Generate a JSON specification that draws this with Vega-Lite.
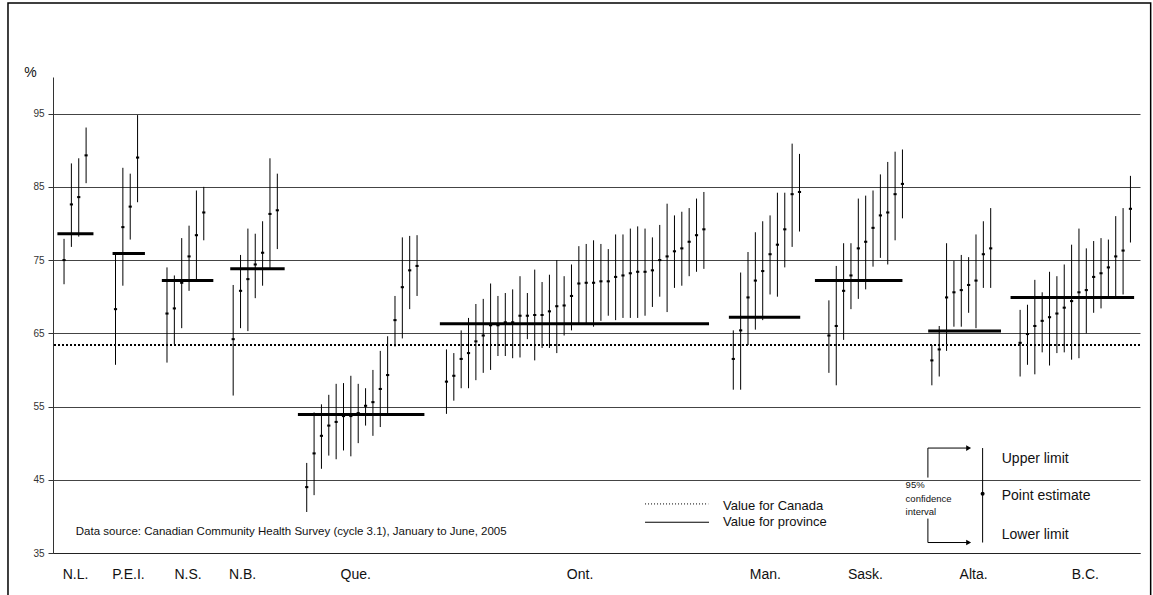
{
  "$schema": "https://vega.github.io/schema/vega-lite/v6.json",
  "width": 1087,
  "height": 476,
  "autosize": "none",
  "padding": {"left": 53, "top": 77, "right": 13, "bottom": 42},
  "background": "white",
  "config": {"view": {"stroke": null}, "font": "Liberation Sans"},
  "datasets": {
    "regions": [
      {"province": "N.L.", "n": 1, "estimate": 75.0, "lower": 71.7, "upper": 77.9},
      {"province": "N.L.", "n": 2, "estimate": 82.6, "lower": 76.8, "upper": 88.2},
      {"province": "N.L.", "n": 3, "estimate": 83.6, "lower": 78.2, "upper": 88.9},
      {"province": "N.L.", "n": 4, "estimate": 89.3, "lower": 85.5, "upper": 93.1},
      {"province": "P.E.I.", "n": 8, "estimate": 68.3, "lower": 60.7, "upper": 76.0},
      {"province": "P.E.I.", "n": 9, "estimate": 79.5, "lower": 71.5, "upper": 87.6},
      {"province": "P.E.I.", "n": 10, "estimate": 82.3, "lower": 77.8, "upper": 86.8},
      {"province": "P.E.I.", "n": 11, "estimate": 89.0, "lower": 82.9, "upper": 94.8},
      {"province": "N.S.", "n": 15, "estimate": 67.7, "lower": 61.0, "upper": 74.0},
      {"province": "N.S.", "n": 16, "estimate": 68.4, "lower": 63.5, "upper": 72.9},
      {"province": "N.S.", "n": 17, "estimate": 71.9, "lower": 65.7, "upper": 78.0},
      {"province": "N.S.", "n": 18, "estimate": 75.5, "lower": 70.8, "upper": 79.7},
      {"province": "N.S.", "n": 19, "estimate": 78.4, "lower": 72.3, "upper": 84.5},
      {"province": "N.S.", "n": 20, "estimate": 81.5, "lower": 77.7, "upper": 85.0},
      {"province": "N.B.", "n": 24, "estimate": 64.2, "lower": 56.5, "upper": 71.6},
      {"province": "N.B.", "n": 25, "estimate": 70.8, "lower": 65.7, "upper": 75.7},
      {"province": "N.B.", "n": 26, "estimate": 72.4, "lower": 65.3, "upper": 79.3},
      {"province": "N.B.", "n": 27, "estimate": 74.4, "lower": 69.8, "upper": 78.6},
      {"province": "N.B.", "n": 28, "estimate": 76.0, "lower": 71.5, "upper": 80.3},
      {"province": "N.B.", "n": 29, "estimate": 81.3, "lower": 73.8, "upper": 88.9},
      {"province": "N.B.", "n": 30, "estimate": 81.8, "lower": 76.5, "upper": 86.8},
      {"province": "Que.", "n": 34, "estimate": 44.0, "lower": 40.6, "upper": 47.3},
      {"province": "Que.", "n": 35, "estimate": 48.6, "lower": 42.9, "upper": 54.2},
      {"province": "Que.", "n": 36, "estimate": 51.0, "lower": 46.5, "upper": 55.3},
      {"province": "Que.", "n": 37, "estimate": 52.4, "lower": 48.3, "upper": 56.6},
      {"province": "Que.", "n": 38, "estimate": 52.9, "lower": 47.8, "upper": 58.1},
      {"province": "Que.", "n": 39, "estimate": 53.7, "lower": 49.0, "upper": 58.2},
      {"province": "Que.", "n": 40, "estimate": 53.7, "lower": 48.2, "upper": 59.2},
      {"province": "Que.", "n": 41, "estimate": 54.1, "lower": 50.0, "upper": 58.1},
      {"province": "Que.", "n": 42, "estimate": 55.1, "lower": 52.4, "upper": 57.5},
      {"province": "Que.", "n": 43, "estimate": 55.6, "lower": 51.0, "upper": 60.0},
      {"province": "Que.", "n": 44, "estimate": 57.4, "lower": 52.2, "upper": 62.6},
      {"province": "Que.", "n": 45, "estimate": 59.3, "lower": 54.0, "upper": 64.6},
      {"province": "Que.", "n": 46, "estimate": 66.8, "lower": 63.2, "upper": 70.1},
      {"province": "Que.", "n": 47, "estimate": 71.3, "lower": 64.3, "upper": 78.1},
      {"province": "Que.", "n": 48, "estimate": 73.6, "lower": 68.3, "upper": 78.3},
      {"province": "Que.", "n": 49, "estimate": 74.2, "lower": 70.1, "upper": 78.4},
      {"province": "Ont.", "n": 53, "estimate": 58.4, "lower": 54.0, "upper": 62.8},
      {"province": "Ont.", "n": 54, "estimate": 59.2, "lower": 55.8, "upper": 62.3},
      {"province": "Ont.", "n": 55, "estimate": 61.5, "lower": 57.5, "upper": 65.4},
      {"province": "Ont.", "n": 56, "estimate": 62.3, "lower": 57.5, "upper": 67.1},
      {"province": "Ont.", "n": 57, "estimate": 63.9, "lower": 58.6, "upper": 69.0},
      {"province": "Ont.", "n": 58, "estimate": 64.7, "lower": 59.6, "upper": 69.7},
      {"province": "Ont.", "n": 59, "estimate": 66.1, "lower": 60.0, "upper": 71.8},
      {"province": "Ont.", "n": 60, "estimate": 66.1, "lower": 61.9, "upper": 70.1},
      {"province": "Ont.", "n": 61, "estimate": 66.5, "lower": 61.9, "upper": 70.5},
      {"province": "Ont.", "n": 62, "estimate": 66.5, "lower": 61.6, "upper": 71.0},
      {"province": "Ont.", "n": 63, "estimate": 67.4, "lower": 61.7, "upper": 72.8},
      {"province": "Ont.", "n": 64, "estimate": 67.4, "lower": 64.2, "upper": 70.5},
      {"province": "Ont.", "n": 65, "estimate": 67.5, "lower": 61.3, "upper": 73.7},
      {"province": "Ont.", "n": 66, "estimate": 67.5, "lower": 63.0, "upper": 72.0},
      {"province": "Ont.", "n": 67, "estimate": 68.0, "lower": 63.0, "upper": 73.0},
      {"province": "Ont.", "n": 68, "estimate": 68.7, "lower": 62.3, "upper": 75.0},
      {"province": "Ont.", "n": 69, "estimate": 68.8, "lower": 64.7, "upper": 72.8},
      {"province": "Ont.", "n": 70, "estimate": 70.1, "lower": 65.4, "upper": 74.4},
      {"province": "Ont.", "n": 71, "estimate": 71.8, "lower": 66.4, "upper": 76.9},
      {"province": "Ont.", "n": 72, "estimate": 71.9, "lower": 66.4, "upper": 77.2},
      {"province": "Ont.", "n": 73, "estimate": 71.9, "lower": 65.9, "upper": 77.7},
      {"province": "Ont.", "n": 74, "estimate": 72.1, "lower": 66.7, "upper": 77.2},
      {"province": "Ont.", "n": 75, "estimate": 72.1, "lower": 67.4, "upper": 76.5},
      {"province": "Ont.", "n": 76, "estimate": 72.7, "lower": 66.8, "upper": 78.5},
      {"province": "Ont.", "n": 77, "estimate": 72.9, "lower": 67.1, "upper": 78.5},
      {"province": "Ont.", "n": 78, "estimate": 73.2, "lower": 67.1, "upper": 79.3},
      {"province": "Ont.", "n": 79, "estimate": 73.4, "lower": 67.1, "upper": 79.6},
      {"province": "Ont.", "n": 80, "estimate": 73.4, "lower": 67.4, "upper": 79.3},
      {"province": "Ont.", "n": 81, "estimate": 73.6, "lower": 68.6, "upper": 78.1},
      {"province": "Ont.", "n": 82, "estimate": 75.0, "lower": 70.0, "upper": 79.8},
      {"province": "Ont.", "n": 83, "estimate": 75.5, "lower": 67.9, "upper": 82.7},
      {"province": "Ont.", "n": 84, "estimate": 76.2, "lower": 71.2, "upper": 81.1},
      {"province": "Ont.", "n": 85, "estimate": 76.6, "lower": 71.5, "upper": 81.6},
      {"province": "Ont.", "n": 86, "estimate": 77.5, "lower": 72.8, "upper": 82.1},
      {"province": "Ont.", "n": 87, "estimate": 78.4, "lower": 73.4, "upper": 83.4},
      {"province": "Ont.", "n": 88, "estimate": 79.2, "lower": 73.8, "upper": 84.3},
      {"province": "Man.", "n": 92, "estimate": 61.5, "lower": 57.3, "upper": 65.4},
      {"province": "Man.", "n": 93, "estimate": 65.4, "lower": 57.3, "upper": 73.3},
      {"province": "Man.", "n": 94, "estimate": 69.9, "lower": 63.4, "upper": 76.1},
      {"province": "Man.", "n": 95, "estimate": 72.2, "lower": 65.5, "upper": 78.8},
      {"province": "Man.", "n": 96, "estimate": 73.5, "lower": 66.8, "upper": 80.3},
      {"province": "Man.", "n": 97, "estimate": 75.8, "lower": 70.3, "upper": 81.1},
      {"province": "Man.", "n": 98, "estimate": 77.1, "lower": 70.0, "upper": 84.2},
      {"province": "Man.", "n": 99, "estimate": 79.2, "lower": 74.0, "upper": 84.2},
      {"province": "Man.", "n": 100, "estimate": 84.0, "lower": 76.8, "upper": 90.9},
      {"province": "Man.", "n": 101, "estimate": 84.3, "lower": 78.9, "upper": 89.5},
      {"province": "Sask.", "n": 105, "estimate": 64.7, "lower": 59.6, "upper": 69.5},
      {"province": "Sask.", "n": 106, "estimate": 66.0, "lower": 57.9, "upper": 74.2},
      {"province": "Sask.", "n": 107, "estimate": 70.8, "lower": 64.1, "upper": 77.3},
      {"province": "Sask.", "n": 108, "estimate": 72.9, "lower": 68.3, "upper": 77.3},
      {"province": "Sask.", "n": 109, "estimate": 76.6, "lower": 69.7, "upper": 83.4},
      {"province": "Sask.", "n": 110, "estimate": 77.5, "lower": 71.0, "upper": 83.8},
      {"province": "Sask.", "n": 111, "estimate": 79.4, "lower": 74.1, "upper": 84.5},
      {"province": "Sask.", "n": 112, "estimate": 81.1, "lower": 75.3, "upper": 86.7},
      {"province": "Sask.", "n": 113, "estimate": 81.5, "lower": 74.4, "upper": 88.4},
      {"province": "Sask.", "n": 114, "estimate": 84.0, "lower": 77.7, "upper": 89.8},
      {"province": "Sask.", "n": 115, "estimate": 85.4, "lower": 80.7, "upper": 90.1},
      {"province": "Alta.", "n": 119, "estimate": 61.3, "lower": 57.9, "upper": 63.4},
      {"province": "Alta.", "n": 120, "estimate": 62.8, "lower": 59.1, "upper": 66.0},
      {"province": "Alta.", "n": 121, "estimate": 69.9, "lower": 62.6, "upper": 77.3},
      {"province": "Alta.", "n": 122, "estimate": 70.6, "lower": 65.9, "upper": 74.9},
      {"province": "Alta.", "n": 123, "estimate": 70.9, "lower": 65.9, "upper": 75.7},
      {"province": "Alta.", "n": 124, "estimate": 71.6, "lower": 67.8, "upper": 75.4},
      {"province": "Alta.", "n": 125, "estimate": 72.2, "lower": 65.7, "upper": 78.5},
      {"province": "Alta.", "n": 126, "estimate": 75.8, "lower": 71.2, "upper": 80.3},
      {"province": "Alta.", "n": 127, "estimate": 76.6, "lower": 71.2, "upper": 82.1},
      {"province": "B.C.", "n": 131, "estimate": 63.7, "lower": 59.1, "upper": 68.2},
      {"province": "B.C.", "n": 132, "estimate": 64.9, "lower": 60.7, "upper": 68.9},
      {"province": "B.C.", "n": 133, "estimate": 66.0, "lower": 59.4, "upper": 72.3},
      {"province": "B.C.", "n": 134, "estimate": 66.7, "lower": 62.4, "upper": 70.6},
      {"province": "B.C.", "n": 135, "estimate": 67.2, "lower": 60.6, "upper": 73.4},
      {"province": "B.C.", "n": 136, "estimate": 67.7, "lower": 62.3, "upper": 72.8},
      {"province": "B.C.", "n": 137, "estimate": 68.5, "lower": 62.4, "upper": 74.4},
      {"province": "B.C.", "n": 138, "estimate": 69.4, "lower": 61.4, "upper": 77.1},
      {"province": "B.C.", "n": 139, "estimate": 70.6, "lower": 61.6, "upper": 79.3},
      {"province": "B.C.", "n": 140, "estimate": 70.9, "lower": 65.0, "upper": 76.6},
      {"province": "B.C.", "n": 141, "estimate": 72.7, "lower": 67.8, "upper": 77.6},
      {"province": "B.C.", "n": 142, "estimate": 73.2, "lower": 68.4, "upper": 78.0},
      {"province": "B.C.", "n": 143, "estimate": 74.0, "lower": 70.0, "upper": 77.8},
      {"province": "B.C.", "n": 144, "estimate": 75.5, "lower": 70.0, "upper": 81.0},
      {"province": "B.C.", "n": 145, "estimate": 76.3, "lower": 70.3, "upper": 82.1},
      {"province": "B.C.", "n": 146, "estimate": 82.0, "lower": 77.4, "upper": 86.5}
    ],
    "provinces": [
      {"province": "N.L.", "value": 78.6, "from": 0.1, "to": 5.0},
      {"province": "P.E.I.", "value": 75.9, "from": 7.6, "to": 12.0},
      {"province": "N.S.", "value": 72.2, "from": 14.3, "to": 21.3},
      {"province": "N.B.", "value": 73.8, "from": 23.6, "to": 31.0},
      {"province": "Que.", "value": 53.9, "from": 32.8, "to": 50.0},
      {"province": "Ont.", "value": 66.3, "from": 52.1, "to": 88.7},
      {"province": "Man.", "value": 67.2, "from": 91.4, "to": 101.1},
      {"province": "Sask.", "value": 72.2, "from": 103.1, "to": 115.0},
      {"province": "Alta.", "value": 65.3, "from": 118.5, "to": 128.4},
      {"province": "B.C.", "value": 69.9, "from": 129.7, "to": 146.5}
    ]
  },
  "layer": [
    {
      "data": {"name": "regions"},
      "mark": {"type": "rule", "color": "black", "strokeWidth": 1},
      "encoding": {
        "x": {
          "field": "n", "type": "quantitative",
          "scale": {"domain": [-0.5, 147.3], "nice": false, "zero": false},
          "axis": {
            "title": null,
            "values": [2.5, 9.7, 17.8, 25.2, 40.6, 71.1, 96.3, 109.9, 124.6, 139.8],
            "labelExpr": "datum.value < 6 ? 'N.L.' : datum.value < 13 ? 'P.E.I.' : datum.value < 22 ? 'N.S.' : datum.value < 32 ? 'N.B.' : datum.value < 51 ? 'Que.' : datum.value < 90 ? 'Ont.' : datum.value < 103 ? 'Man.' : datum.value < 117 ? 'Sask.' : datum.value < 129 ? 'Alta.' : 'B.C.'",
            "ticks": false,
            "grid": false,
            "domainColor": "#222",
            "domainWidth": 1,
            "labelFontSize": 14,
            "labelColor": "#111",
            "labelPadding": 14,
            "labelOverlap": false,
            "labelFlush": false,
            "labelBound": false
          }
        },
        "y": {
          "field": "lower", "type": "quantitative",
          "scale": {"domain": [35, 100], "nice": false, "zero": false},
          "axis": {
            "values": [35, 45, 55, 65, 75, 85, 95],
            "grid": true,
            "gridColor": "#444",
            "gridWidth": 1,
            "domainColor": "#333",
            "tickColor": "#333",
            "tickSize": 5,
            "labelFontSize": 10,
            "labelColor": "#333",
            "labelPadding": 4,
            "title": "%",
            "titleAngle": 0,
            "titleX": -23,
            "titleY": -5,
            "titleAlign": "center",
            "titleBaseline": "middle",
            "titleFontSize": 14,
            "titleFontWeight": "normal",
            "titleColor": "#111"
          }
        },
        "y2": {"field": "upper"}
      }
    },
    {
      "data": {"name": "regions"},
      "mark": {"type": "point", "shape": "M-1,-0.65H1V0.65H-1Z", "filled": true, "color": "black", "size": 10, "opacity": 1},
      "encoding": {
        "x": {"field": "n", "type": "quantitative"},
        "y": {"field": "estimate", "type": "quantitative"}
      }
    },
    {
      "data": {"name": "provinces"},
      "mark": {"type": "rule", "color": "black", "strokeWidth": 3},
      "encoding": {
        "x": {"field": "from", "type": "quantitative"},
        "x2": {"field": "to"},
        "y": {"field": "value", "type": "quantitative"}
      }
    },
    {
      "data": {"values": [{}]},
      "mark": {"type": "rule", "color": "black", "strokeWidth": 2, "strokeDash": [2, 2]},
      "encoding": {"y": {"datum": 63.4, "type": "quantitative"}}
    },
    {
      "data": {"values": [{}]},
      "mark": {"type": "text", "align": "left", "baseline": "middle", "fontSize": 11.5, "color": "#111", "text": "Data source: Canadian Community Health Survey (cycle 3.1), January to June, 2005"},
      "encoding": {"x": {"datum": 2.6, "type": "quantitative"}, "y": {"datum": 37.8, "type": "quantitative"}}
    },
    {
      "data": {"values": [{}]},
      "mark": {"type": "rule", "color": "black", "strokeWidth": 1, "strokeDash": [1, 2]},
      "encoding": {"x": {"datum": 80.0, "type": "quantitative"}, "x2": {"datum": 88.6}, "y": {"datum": 41.7, "type": "quantitative"}}
    },
    {
      "data": {"values": [{}]},
      "mark": {"type": "rule", "color": "black", "strokeWidth": 1},
      "encoding": {"x": {"datum": 80.0, "type": "quantitative"}, "x2": {"datum": 88.7}, "y": {"datum": 39.2, "type": "quantitative"}}
    },
    {
      "data": {"values": [{}]},
      "mark": {"type": "text", "align": "left", "baseline": "middle", "fontSize": 13, "color": "#111", "text": "Value for Canada"},
      "encoding": {"x": {"datum": 90.6, "type": "quantitative"}, "y": {"datum": 41.45, "type": "quantitative"}}
    },
    {
      "data": {"values": [{}]},
      "mark": {"type": "text", "align": "left", "baseline": "middle", "fontSize": 13, "color": "#111", "text": "Value for province"},
      "encoding": {"x": {"datum": 90.6, "type": "quantitative"}, "y": {"datum": 39.3, "type": "quantitative"}}
    },
    {
      "data": {"values": [{}]},
      "mark": {"type": "rule", "color": "black", "strokeWidth": 1},
      "encoding": {"x": {"datum": 118.46, "type": "quantitative"}, "y": {"datum": 45.3, "type": "quantitative"}, "y2": {"datum": 49.33}}
    },
    {
      "data": {"values": [{}]},
      "mark": {"type": "rule", "color": "black", "strokeWidth": 1},
      "encoding": {"x": {"datum": 118.46, "type": "quantitative"}, "x2": {"datum": 123.9}, "y": {"datum": 49.33, "type": "quantitative"}}
    },
    {
      "data": {"values": [{}]},
      "mark": {"type": "rule", "color": "black", "strokeWidth": 1},
      "encoding": {"x": {"datum": 118.46, "type": "quantitative"}, "y": {"datum": 39.7, "type": "quantitative"}, "y2": {"datum": 36.43}}
    },
    {
      "data": {"values": [{}]},
      "mark": {"type": "rule", "color": "black", "strokeWidth": 1},
      "encoding": {"x": {"datum": 118.46, "type": "quantitative"}, "x2": {"datum": 123.9}, "y": {"datum": 36.43, "type": "quantitative"}}
    },
    {
      "data": {"values": [{}]},
      "mark": {"type": "point", "shape": "triangle-right", "filled": true, "color": "black", "size": 32, "opacity": 1},
      "encoding": {"x": {"datum": 124.0, "type": "quantitative"}, "y": {"datum": 49.33, "type": "quantitative"}}
    },
    {
      "data": {"values": [{}]},
      "mark": {"type": "point", "shape": "triangle-right", "filled": true, "color": "black", "size": 32, "opacity": 1},
      "encoding": {"x": {"datum": 124.0, "type": "quantitative"}, "y": {"datum": 36.43, "type": "quantitative"}}
    },
    {
      "data": {"values": [{}]},
      "mark": {"type": "rule", "color": "black", "strokeWidth": 1},
      "encoding": {"x": {"datum": 125.9, "type": "quantitative"}, "y": {"datum": 49.33, "type": "quantitative"}, "y2": {"datum": 36.43}}
    },
    {
      "data": {"values": [{}]},
      "mark": {"type": "point", "shape": "circle", "filled": true, "color": "black", "size": 16, "opacity": 1},
      "encoding": {"x": {"datum": 125.9, "type": "quantitative"}, "y": {"datum": 43.09, "type": "quantitative"}}
    },
    {
      "data": {"values": [{}]},
      "mark": {"type": "text", "align": "left", "baseline": "middle", "fontSize": 14, "color": "#111", "text": "Upper limit"},
      "encoding": {"x": {"datum": 128.5, "type": "quantitative"}, "y": {"datum": 47.83, "type": "quantitative"}}
    },
    {
      "data": {"values": [{}]},
      "mark": {"type": "text", "align": "left", "baseline": "middle", "fontSize": 14, "color": "#111", "text": "Point estimate"},
      "encoding": {"x": {"datum": 128.5, "type": "quantitative"}, "y": {"datum": 42.72, "type": "quantitative"}}
    },
    {
      "data": {"values": [{}]},
      "mark": {"type": "text", "align": "left", "baseline": "middle", "fontSize": 14, "color": "#111", "text": "Lower limit"},
      "encoding": {"x": {"datum": 128.5, "type": "quantitative"}, "y": {"datum": 37.39, "type": "quantitative"}}
    },
    {
      "data": {"values": [{}]},
      "mark": {"type": "text", "align": "left", "baseline": "middle", "fontSize": 9.5, "color": "#111", "lineHeight": 13.2, "text": ["95%", "confidence", "interval"]},
      "encoding": {"x": {"datum": 115.43, "type": "quantitative"}, "y": {"datum": 44.22, "type": "quantitative"}}
    },
    {
      "data": {"values": [{}]},
      "mark": {"type": "rect", "fill": null, "fillOpacity": 0, "stroke": "black", "strokeWidth": 1.5},
      "encoding": {"x": {"datum": -6.62, "type": "quantitative"}, "x2": {"datum": 148.75}, "y": {"datum": 110.1, "type": "quantitative"}, "y2": {"datum": 28}}
    }
  ]
}
